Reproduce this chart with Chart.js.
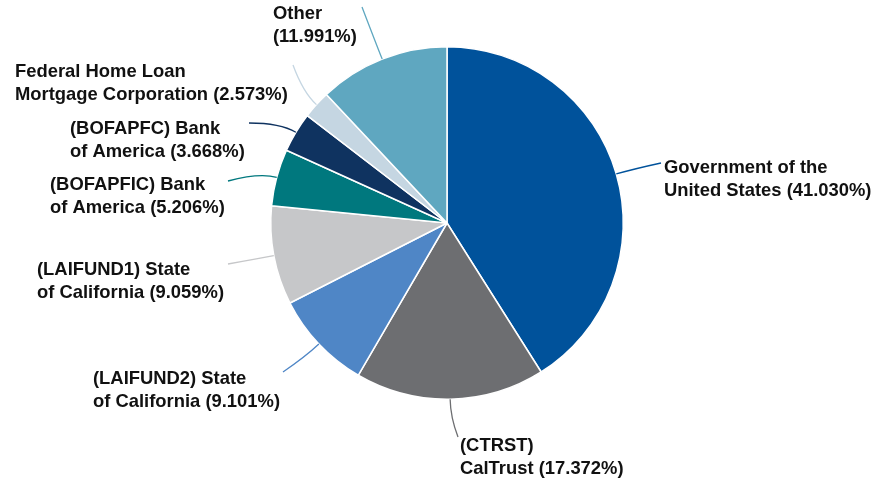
<!DOCTYPE html>
<html>
<head>
<meta charset="utf-8">
<script src="https://cdn.jsdelivr.net/npm/chart.js@4"></script>
<style>
  html, body { margin: 0; padding: 0; background: #fff; }
  #wrap { width: 873px; height: 481px; position: relative; }
</style>
</head>
<body>
<div id="wrap"><canvas id="pieChart"></canvas></div>
<script>
// slice names (two lines each) and shares, clockwise from 12 o'clock
const labelLines = [
    ['Government of the', 'United States'],
    ['(CTRST)', 'CalTrust'],
    ['(LAIFUND2) State', 'of California'],
    ['(LAIFUND1) State', 'of California'],
    ['(BOFAPFIC) Bank', 'of America'],
    ['(BOFAPFC) Bank', 'of America'],
    ['Federal Home Loan', 'Mortgage Corporation'],
    ['Other', '']
];
const shares = [41.030, 17.372, 9.101, 9.059, 5.206, 3.668, 2.573, 11.991];

const colors = [
    '#00529b', '#6d6e71', '#4f86c6', '#c6c7c9',
    '#00787e', '#0f3360', '#c5d6e2', '#5fa7c0'
];

// where each label text sits (left x, first line middle y) and leader end point
const labelPos = [
    {x: 664, y: 168, lx: 661, ly: 163},
    {x: 460, y: 446, lx: 458, ly: 437},
    {x: 93,  y: 379, lx: 283, ly: 372},
    {x: 37,  y: 270, lx: 228, ly: 264},
    {x: 50,  y: 185, lx: 228, ly: 181},
    {x: 70,  y: 129, lx: 249, ly: 123},
    {x: 15,  y: 72,  lx: 293, ly: 65},
    {x: 273, y: 14,  lx: 362, ly: 7}
];

const pieLabels = {
    id: 'pieLabels',
    afterDraw(chart) {
        const ctx = chart.ctx;
        const meta = chart.getDatasetMeta(0);
        ctx.save();
        ctx.font = 'bold 18.4px "Liberation Sans", Arial, sans-serif';
        ctx.fillStyle = '#111';
        ctx.textBaseline = 'middle';
        ctx.textAlign = 'left';
        meta.data.forEach((arc, i) => {
            const p = labelPos[i];
            const mid = (arc.startAngle + arc.endAngle) / 2;
            const sx = arc.x + Math.cos(mid) * arc.outerRadius;
            const sy = arc.y + Math.sin(mid) * arc.outerRadius;
            // bend point: a little outward from the slice edge
            const bx = arc.x + Math.cos(mid) * (arc.outerRadius + 18);
            const by = arc.y + Math.sin(mid) * (arc.outerRadius + 18);
            ctx.strokeStyle = colors[i];
            ctx.lineWidth = 1.3;
            ctx.beginPath();
            ctx.moveTo(sx, sy);
            ctx.quadraticCurveTo(bx, by, p.lx, p.ly);
            ctx.stroke();

            const pct = '(' + shares[i].toFixed(3) + '%)';
            const l1 = labelLines[i][0];
            const l2 = labelLines[i][1] ? labelLines[i][1] + ' ' + pct : pct;
            ctx.fillText(l1, p.x, p.y);
            ctx.fillText(l2, p.x, p.y + 23);
        });
        ctx.restore();
    }
};

new Chart(document.getElementById('pieChart'), {
    type: 'pie',
    data: {
        labels: labelLines.map(l => l.join(' ')),
        datasets: [{
            data: shares,
            backgroundColor: colors,
            borderColor: '#ffffff',
            borderWidth: 1.5
        }]
    },
    options: {
        responsive: true,
        maintainAspectRatio: false,
        animation: false,
        layout: {
            padding: {left: 270, right: 249, top: 46, bottom: 81}
        },
        plugins: {
            legend: {display: false},
            tooltip: {enabled: false}
        }
    },
    plugins: [pieLabels]
});
</script>
</body>
</html>
